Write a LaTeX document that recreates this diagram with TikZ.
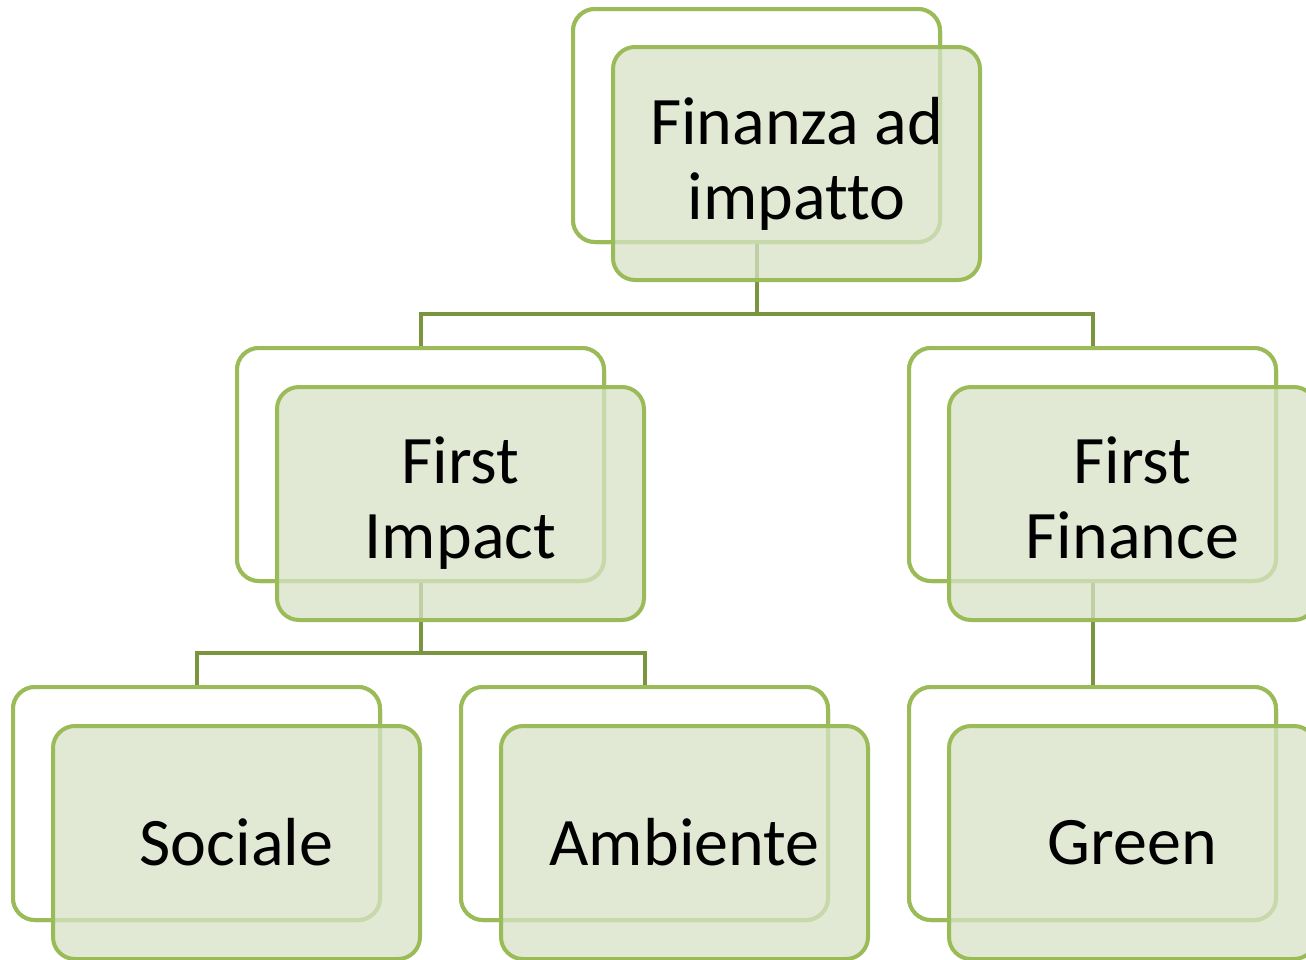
\documentclass[tikz,border=0pt]{standalone}
\usepackage{fontspec}
\setmainfont[Ligatures=NoCommon]{Carlito}
\definecolor{boxline}{RGB}{155,187,89}
\definecolor{conline}{RGB}{122,148,64}
\definecolor{boxfill}{RGB}{215,226,198}
\tikzset{
  backbox/.style={draw=boxline, line width=4pt, fill=white, rounded corners=22pt,
    minimum width=367pt, minimum height=233pt, inner sep=0pt},
  frontbox/.style={draw=boxline, line width=4pt, fill=boxfill, fill opacity=0.75, text opacity=1,
    rounded corners=22pt, minimum width=367pt, minimum height=233pt, inner sep=0pt,
    align=center, font=\fontsize{68}{75}\selectfont},
  conn/.style={draw=conline, line width=4pt}
}
\begin{document}
\begin{tikzpicture}[x=1pt,y=-1pt]
\clip (0,0) rectangle (1306,959);
\useasboundingbox (0,0) rectangle (1306,959);
% back boxes (positions)
\node[backbox] (topB) at (756.5,125.5) {};
\node[backbox] (fiB) at (420.5,464.5) {};
\node[backbox] (ffB) at (1092.5,464.5) {};
\node[backbox] (soB) at (196.5,803.5) {};
\node[backbox] (amB) at (644.5,803.5) {};
\node[backbox] (grB) at (1092.5,803.5) {};
% connectors
\coordinate (j1) at (756.5,314);
\coordinate (j2) at (420.5,653);
\draw[conn] (topB.south) -- (j1);
\draw[conn] (fiB.north) |- (j1);
\draw[conn] (ffB.north) |- (j1);
\draw[conn] (fiB.south) -- (j2);
\draw[conn] (soB.north) |- (j2);
\draw[conn] (amB.north) |- (j2);
\draw[conn] (ffB.south) -- (grB.north);
% redraw back boxes on top of connectors
\node[backbox] at (topB) {};
\node[backbox] at (fiB) {};
\node[backbox] at (ffB) {};
\node[backbox] at (soB) {};
\node[backbox] at (amB) {};
\node[backbox] at (grB) {};
% front boxes
\node[frontbox] (top) at (796.5,163.5) {Finanza ad\\impatto};
\node[frontbox] (fi) at (460.5,503.5) {First\\Impact};
\node[frontbox] (ff) at (1132.5,503.5) {First\\Finance\vphantom{p}};
\node[frontbox] (so) at (236.5,842.5) {Sociale};
\node[frontbox] (am) at (684.5,842.5) {Ambiente};
\node[frontbox] (gr) at (1132.5,842.5) {Green};
\end{tikzpicture}
\end{document}
